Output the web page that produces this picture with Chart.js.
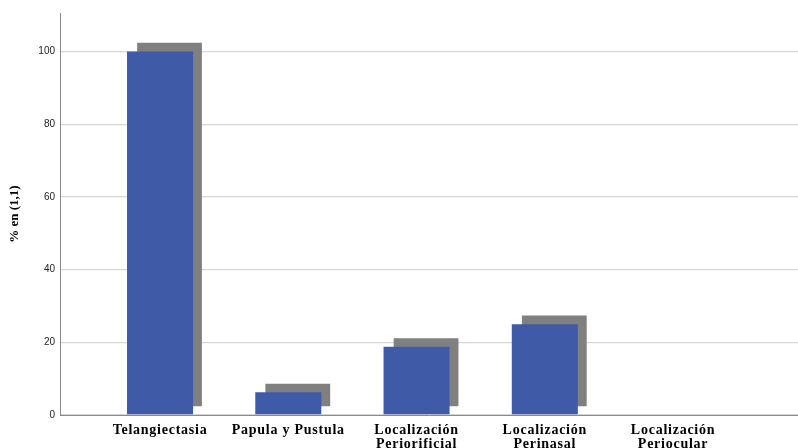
<!DOCTYPE html>
<html>
<head>
<meta charset="utf-8">
<script src="https://cdn.jsdelivr.net/npm/chart.js@4"></script>
<style>
    html, body { margin: 0; padding: 0; background: #fff; }
    #wrap { width: 798px; height: 448px; }
</style>
</head>
<body>
<div id="wrap"><canvas id="barChart"></canvas></div>
<script>
const categories = ['Telangiectasia', 'Papula y Pustula', 'Localización Periorificial', 'Localización Perinasal', 'Localización Periocular'];
const tickLabels = [['Telangiectasia'], ['Papula y Pustula'], ['Localización', 'Periorificial'], ['Localización', 'Perinasal'], ['Localización', 'Periocular']];
const percentValues = [100, 6.25, 18.75, 25, 0];
// grey "depth" block behind each bar (floating: low -> high)
const shadowLow = [2.4, 2.4, 2.4, 2.4, null];
const shadowHigh = [102.4, 8.6, 21.1, 27.4, null];
const yTicks = [0, 20, 40, 60, 80, 100];

const serif = "'Liberation Serif', 'Times New Roman', serif";

function intTicks(scale) {
    scale.ticks = categories.map((c, i) => ({ value: i }));
}

// x tick labels are drawn after the bars (ticks.z: 1) and slightly spaced out
const spacedLabels = {
    id: 'spacedLabels',
    afterDatasetsDraw(chart) { chart.ctx.letterSpacing = '0.75px'; },
    afterDraw(chart) { chart.ctx.letterSpacing = '0px'; }
};

new Chart(document.getElementById('barChart'), {
    type: 'bar',
    data: {
        datasets: [{
            label: '% en (1,1)',
            data: percentValues.map((v, i) => ({ x: i, y: v })),
            backgroundColor: '#3f5ba8',
            xAxisID: 'x',
            grouped: false,
            barPercentage: 0.515,
            categoryPercentage: 1
        }, {
            label: 'sombra',
            data: shadowLow.map((lo, i) => ({ x: i, y: lo === null ? null : [lo, shadowHigh[i]] })),
            backgroundColor: '#808080',
            xAxisID: 'x2',
            grouped: false,
            barPercentage: 0.505,
            categoryPercentage: 1
        }]
    },
    options: {
        responsive: true,
        maintainAspectRatio: false,
        animation: false,
        layout: { padding: { top: 13, right: 0, left: 0, bottom: 0 } },
        plugins: {
            legend: { display: false },
            tooltip: { enabled: false }
        },
        scales: {
            x: {
                type: 'linear',
                offset: false,
                min: -0.78,
                max: 4.974,
                afterBuildTicks: intTicks,
                afterFit: function(scale) { scale.height = 33; },
                grid: { display: false, drawTicks: false },
                border: { display: true, color: '#8a8a8a', width: 1, z: 1 },
                ticks: {
                    z: 1,
                    autoSkip: false,
                    maxRotation: 0,
                    padding: 8,
                    color: '#000',
                    font: { family: serif, size: 14, weight: 'bold', lineHeight: 1.0 },
                    callback: function(value) {
                        return tickLabels[value];
                    }
                }
            },
            x2: {
                type: 'linear',
                display: false,
                offset: false,
                min: -0.854,
                max: 4.90,
                afterBuildTicks: intTicks
            },
            y: {
                min: 0,
                max: 110.6,
                afterBuildTicks: function(scale) {
                    scale.ticks = yTicks.map(v => ({ value: v }));
                },
                afterFit: function(scale) { scale.width = 60; },
                grid: { color: '#d6d6d6', lineWidth: 1.3, drawTicks: false },
                border: { display: true, color: '#8a8a8a', width: 1 },
                ticks: {
                    padding: 5,
                    color: '#222',
                    font: { family: "'Liberation Sans', Arial, sans-serif", size: 10 }
                },
                title: {
                    display: true,
                    text: '% en (1,1)',
                    color: '#000',
                    padding: { top: 7, bottom: 0 },
                    font: { family: serif, size: 13, weight: 'bold' }
                }
            }
        }
    },
    plugins: [spacedLabels]
});
</script>
</body>
</html>
